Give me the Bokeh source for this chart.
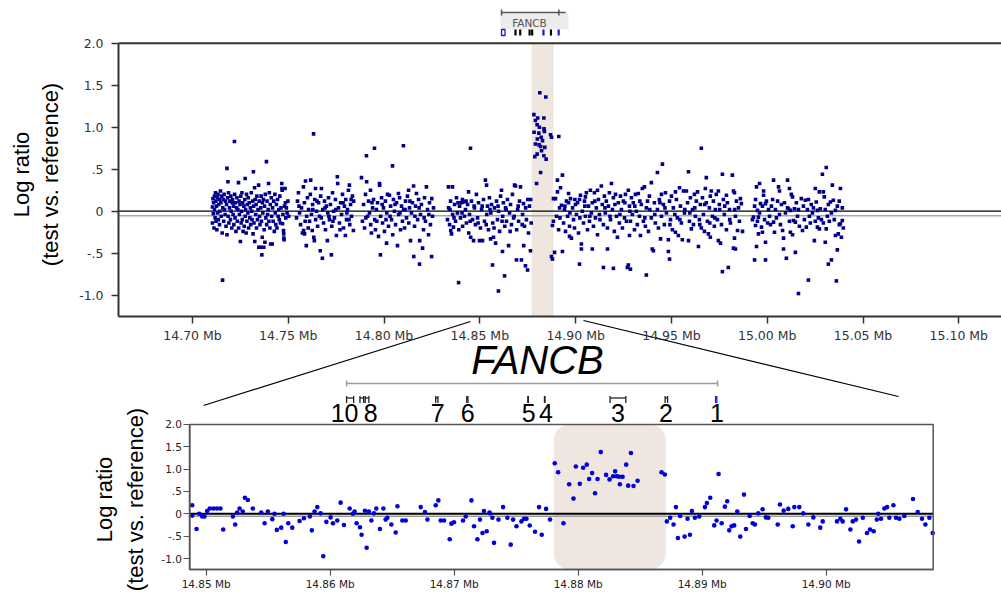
from bokeh.plotting import figure
from bokeh.models import Range1d, LinearAxis, FixedTicker, PrintfTickFormatter, BoxAnnotation
from bokeh.core.properties import value
from bokeh.embed import file_html
from bokeh.resources import INLINE

# ---------------- data ----------------
# top panel: position (Mb), log ratio
top_a = [(14.7104,0.05),(14.7104,-0.14),(14.7107,0.15),(14.7109,-0.03),(14.7110,0.10),(14.7112,-0.20),(14.7115,0.18),(14.7115,0.02),(14.7118,-0.08),(14.7120,0.22),(14.7122,0.12),(14.7123,-0.12),(14.7125,0.06),(14.7127,-0.22),(14.7130,0.16),(14.7131,-0.02),(14.7133,0.20),(14.7135,-0.10),(14.7137,0.08),(14.7140,0.14),(14.7141,-0.16),(14.7143,0.00),(14.7146,0.24),(14.7148,0.10),(14.7150,-0.06),(14.7153,0.18),(14.7155,-0.26),(14.7157,-0.82),(14.7158,0.04),(14.7160,0.14),(14.7163,-0.12),(14.7165,0.20),(14.7167,0.02),(14.7170,-0.04),(14.7172,0.12),(14.7175,-0.18),(14.7180,0.51),(14.7178,0.08),(14.7180,-0.28),(14.7183,0.16),(14.7185,0.35),(14.7186,-0.06),(14.7188,0.22),(14.7190,-0.14),(14.7193,0.04),(14.7195,0.12),(14.7198,-0.10),(14.7200,0.18),(14.7202,0.00),(14.7205,-0.20),(14.7207,0.10),(14.7209,0.14),(14.7212,-0.04),(14.7214,0.06),(14.7216,-0.16),(14.7219,0.83),(14.7220,0.20),(14.7222,-0.08),(14.7225,0.10),(14.7227,-0.24),(14.7230,0.04),(14.7232,0.16),(14.7234,-0.12),(14.7237,0.02),(14.7240,0.34),(14.7241,-0.20),(14.7243,0.12),(14.7245,-0.04),(14.7248,0.08),(14.7250,-0.36),(14.7252,0.18),(14.7254,-0.14),(14.7256,0.00),(14.7258,0.22),(14.7260,-0.10),(14.7262,0.10),(14.7264,-0.24),(14.7275,0.39),(14.7268,0.06),(14.7270,-0.18),(14.7273,0.14),(14.7275,-0.06),(14.7277,0.02),(14.7280,-0.26),(14.7282,0.20),(14.7284,-0.12),(14.7286,0.08),(14.7289,-0.02),(14.7291,0.16),(14.7293,-0.20),(14.7296,0.10),(14.7299,-0.08),(14.7302,0.04),(14.7304,-0.16),(14.7307,0.22),(14.7309,0.00),(14.7311,-0.10),(14.7318,0.47),(14.7314,0.12),(14.7316,-0.27),(14.7319,0.06),(14.7321,-0.14),(14.7324,0.28),(14.7325,-0.36),(14.7327,0.14),(14.7330,-0.04),(14.7332,0.08),(14.7334,-0.20),(14.7336,0.18),(14.7339,-0.10),(14.7342,0.02),(14.7345,0.31),(14.7346,-0.43),(14.7348,0.12),(14.7350,-0.06),(14.7352,-0.16),(14.7355,-0.43),(14.7356,0.04),(14.7358,0.18),(14.7360,-0.12),(14.7362,-0.52),(14.7364,-0.31),(14.7365,0.10),(14.7367,-0.02),(14.7370,0.14),(14.7372,-0.43),(14.7374,-0.22),(14.7376,0.06),(14.7378,-0.37),(14.7380,0.20),(14.7383,-0.08),(14.7386,0.59),(14.7387,-0.16),(14.7389,0.12),(14.7392,-0.04),(14.7395,0.02),(14.7397,0.33),(14.7399,-0.12),(14.7401,0.22),(14.7404,-0.20),(14.7406,0.08),(14.7408,-0.39),(14.7411,0.16),(14.7413,-0.06),(14.7416,-0.39),(14.7418,0.04),(14.7421,-0.12),(14.7424,0.12),(14.7427,-0.24),(14.7430,0.20),(14.7432,-0.02),(14.7435,-0.16),(14.7438,0.08),(14.7441,-0.20),(14.7444,0.14),(14.7447,-0.06),(14.7450,0.02),(14.7453,-0.10),(14.7456,0.18),(14.7459,-0.14),(14.7462,0.04),(14.7466,0.33),(14.7467,0.27),(14.7468,0.25),(14.7470,-0.15),(14.7472,-0.04),(14.7475,-0.23),(14.7476,-0.27),(14.7477,-0.32),(14.7478,-0.34),(14.7480,0.06),(14.7483,0.27),(14.7485,0.10),(14.7487,-0.08),(14.7490,0.04),(14.7494,-0.02),(14.7498,0.12),(14.7502,-0.06)]
top_b = [(14.7543,-0.08),(14.7548,0.12),(14.7553,0.22),(14.7559,-0.02),(14.7564,-0.16),(14.7569,0.04),(14.7574,-0.26),(14.7579,0.29),(14.7580,-0.23),(14.7584,0.10),(14.7585,-0.27),(14.7590,0.36),(14.7594,-0.41),(14.7596,-0.06),(14.7600,0.16),(14.7606,0.02),(14.7611,-0.12),(14.7615,0.20),(14.7617,0.37),(14.7621,-0.04),(14.7625,-0.23),(14.7627,0.08),(14.7632,0.92),(14.7633,-0.31),(14.7636,-0.35),(14.7638,0.14),(14.7642,0.27),(14.7643,-0.10),(14.7647,0.00),(14.7653,-0.18),(14.7658,0.10),(14.7663,-0.06),(14.7667,-0.47),(14.7669,0.18),(14.7673,0.27),(14.7678,-0.56),(14.7680,0.02),(14.7684,-0.14),(14.7689,0.12),(14.7694,-0.22),(14.7699,0.06),(14.7704,-0.35),(14.7706,-0.02),(14.7710,0.16),(14.7715,-0.10),(14.7720,0.08),(14.7725,-0.52),(14.7727,-0.18),(14.7731,0.22),(14.7736,0.00),(14.7741,-0.08),(14.7746,0.14),(14.7751,-0.29),(14.7756,0.41),(14.7758,0.33),(14.7762,0.04),(14.7767,-0.14),(14.7773,0.10),(14.7778,-0.04),(14.7783,0.20),(14.7788,-0.20),(14.7793,0.06),(14.7798,-0.29),(14.7800,0.14),(14.7804,-0.10),(14.7809,0.02),(14.7814,0.25),(14.7819,0.31),(14.7821,-0.16),(14.7825,0.08),(14.7830,-0.06),(14.7835,0.18),(14.7840,-0.23),(14.7841,0.12),(14.7556,0.06),(14.7588,-0.12),(14.7604,-0.20),(14.7628,0.02),(14.7650,0.12),(14.7672,-0.08),(14.7692,0.04),(14.7712,-0.06),(14.7733,-0.12),(14.7748,0.02),(14.7770,-0.22),(14.7786,0.10),(14.7806,-0.02),(14.7817,-0.10),(14.7828,0.14)]
top_c = [(14.7882,0.40),(14.7887,-0.12),(14.7893,0.08),(14.7898,-0.20),(14.7903,0.20),(14.7908,0.66),(14.7909,0.35),(14.7914,-0.06),(14.7919,0.12),(14.7924,-0.02),(14.7929,0.25),(14.7930,-0.16),(14.7934,-0.26),(14.7940,0.04),(14.7945,0.14),(14.7950,0.75),(14.7951,-0.10),(14.7955,-0.22),(14.7960,0.02),(14.7966,0.10),(14.7971,-0.30),(14.7976,0.33),(14.7977,0.31),(14.7981,-0.52),(14.7982,-0.06),(14.7987,0.16),(14.7992,-0.14),(14.7997,0.04),(14.8002,-0.24),(14.8007,0.12),(14.8013,-0.38),(14.8014,-0.02),(14.8018,0.20),(14.8023,-0.18),(14.8028,0.19),(14.8034,0.06),(14.8039,-0.10),(14.8044,0.54),(14.8045,-0.28),(14.8049,0.14),(14.8054,0.00),(14.8060,-0.16),(14.8065,0.10),(14.8070,-0.41),(14.8075,0.21),(14.8076,-0.04),(14.8081,0.16),(14.8086,-0.22),(14.8091,0.06),(14.8096,-0.12),(14.8101,0.78),(14.8102,0.02),(14.8107,-0.20),(14.8112,0.12),(14.8117,-0.08),(14.8122,0.18),(14.8128,0.25),(14.8129,-0.14),(14.8133,0.04),(14.8138,-0.35),(14.8143,-0.02),(14.8148,0.10),(14.8154,0.30),(14.8155,-0.54),(14.8159,-0.18),(14.8164,0.06),(14.8169,0.21),(14.8175,-0.10),(14.8180,0.14),(14.8185,-0.63),(14.8186,-0.35),(14.8190,-0.04),(14.8195,0.08),(14.8201,-0.44),(14.8206,-0.22),(14.8211,0.16),(14.8216,-0.12),(14.8221,0.29),(14.8227,0.02),(14.8232,-0.28),(14.8237,0.10),(14.8242,-0.16),(14.8248,-0.54),(14.8249,0.15),(14.8253,-0.06),(14.8258,0.04),(14.7905,-0.08),(14.7937,0.10),(14.7962,-0.12),(14.7990,0.08),(14.8010,-0.10),(14.8031,-0.06),(14.8057,0.08),(14.8083,-0.02),(14.8110,0.02),(14.8135,0.12),(14.8161,-0.06),(14.8183,0.04),(14.8209,-0.08),(14.8234,-0.04)]
top_d = [(14.8331,-0.10),(14.8336,0.29),(14.8337,0.04),(14.8342,-0.16),(14.8347,0.12),(14.8348,-0.23),(14.8352,-0.27),(14.8357,0.29),(14.8358,-0.04),(14.8362,-0.19),(14.8368,0.08),(14.8373,-0.12),(14.8378,0.16),(14.8383,-0.02),(14.8389,-0.85),(14.8390,-0.22),(14.8394,0.06),(14.8399,-0.08),(14.8404,0.10),(14.8409,0.14),(14.8410,-0.18),(14.8415,0.11),(14.8420,-0.06),(14.8425,0.02),(14.8430,-0.14),(14.8436,0.08),(14.8441,0.23),(14.8442,-0.26),(14.8446,-0.04),(14.8451,0.75),(14.8452,-0.31),(14.8456,0.12),(14.8462,-0.10),(14.8467,-0.35),(14.8472,0.04),(14.8477,-0.16),(14.8482,0.20),(14.8488,-0.08),(14.8493,0.10),(14.8498,-0.35),(14.8503,-0.20),(14.8509,0.02),(14.8514,-0.35),(14.8519,0.14),(14.8524,-0.12),(14.8529,0.37),(14.8535,0.31),(14.8536,-0.04),(14.8540,0.06),(14.8545,-0.22),(14.8550,0.16),(14.8556,-0.33),(14.8557,-0.02),(14.8561,0.08),(14.8566,-0.64),(14.8567,-0.14),(14.8571,-0.31),(14.8576,0.04),(14.8582,-0.38),(14.8587,0.12),(14.8592,-0.10),(14.8597,-0.95),(14.8598,0.00),(14.8603,-0.24),(14.8608,0.18),(14.8613,0.25),(14.8618,-0.48),(14.8619,-0.06),(14.8623,0.10),(14.8629,-0.77),(14.8630,-0.18),(14.8634,0.04),(14.8639,-0.12),(14.8644,0.14),(14.8650,-0.41),(14.8655,-0.02),(14.8660,0.08),(14.8665,-0.16),(14.8670,0.20),(14.8676,-0.08),(14.8681,0.31),(14.8686,0.30),(14.8691,-0.58),(14.8692,-0.22),(14.8697,0.02),(14.8702,-0.12),(14.8707,0.12),(14.8712,0.29),(14.8717,-0.58),(14.8723,-0.04),(14.8728,0.09),(14.8729,-0.41),(14.8733,-0.18),(14.8738,-0.65),(14.8739,0.04),(14.8743,-0.10),(14.8749,-0.70),(14.8750,0.14),(14.8754,-0.26),(14.8759,0.06),(14.8764,-0.47),(14.8765,0.14),(14.8768,-0.14),(14.8344,0.02),(14.8365,-0.08),(14.8386,0.10),(14.8407,-0.02),(14.8428,0.12),(14.8449,-0.12),(14.8470,0.06),(14.8491,-0.14),(14.8512,0.06),(14.8533,-0.16),(14.8553,0.02),(14.8574,-0.20),(14.8595,0.06),(14.8616,-0.12),(14.8637,0.02),(14.8658,-0.24),(14.8679,-0.06),(14.8700,0.06),(14.8721,-0.16)]
top_peak = [(14.8813,1.41),(14.8844,1.36),(14.8782,1.15),(14.8802,1.11),(14.8834,1.11),(14.8790,1.08),(14.8799,1.03),(14.8783,0.94),(14.8808,0.93),(14.8835,0.98),(14.8820,0.88),(14.8827,0.84),(14.8839,0.76),(14.8809,0.79),(14.8817,0.77),(14.8787,0.65),(14.8799,0.68),(14.8834,0.66),(14.8846,0.62),(14.8817,0.46),(14.8796,0.33),(14.8869,0.91),(14.8874,0.88),(14.8912,0.89),(14.8822,0.72),(14.8800,0.86),(14.8811,1.00),(14.8837,0.95),(14.8790,0.80)]
top_e = [(14.8874,-0.54),(14.8879,-0.57),(14.8890,-0.49),(14.8884,0.15),(14.8895,0.15),(14.8905,0.37),(14.8905,0.23),(14.8884,-0.12),(14.8879,-0.17),(14.8900,-0.06),(14.8911,-0.22),(14.8916,0.04),
 (14.8921,0.28),(14.8926,0.07),(14.8931,0.43),(14.8931,-0.48),(14.8937,-0.14),(14.8942,0.02),(14.8947,-0.24),(14.8952,0.12),(14.8958,-0.06),(14.8963,0.21),(14.8963,0.10),(14.8968,-0.18),(14.8968,-0.30),
 (14.8973,0.15),(14.8978,-0.32),(14.8984,0.04),(14.8989,-0.10),(14.8994,-0.20),(14.8999,0.08),(14.9004,-0.04),(14.9010,0.10),(14.9015,-0.26),(14.9020,0.14),(14.9020,-0.63),
 (14.9025,0.19),(14.9030,-0.39),(14.9030,-0.45),(14.9035,0.00),(14.9041,-0.14),(14.9046,0.12),(14.9051,-0.06),(14.9051,0.17),(14.9056,0.22),(14.9062,-0.22),(14.9067,0.06),(14.9072,-0.12),
 (14.9077,0.25),(14.9082,-0.02),(14.9087,-0.45),(14.9087,0.10),(14.9093,-0.18),(14.9098,0.22),(14.9103,-0.08),(14.9108,0.04),(14.9114,-0.28),(14.9114,0.25),(14.9119,0.14),(14.9124,-0.04),
 (14.9134,0.30),(14.9139,0.08),(14.9145,-0.67),(14.9145,-0.16),(14.9150,0.18),(14.9155,-0.02),(14.9160,0.12),(14.9166,-0.45),(14.9166,-0.20),(14.9171,0.06),(14.9176,0.22),
 (14.9182,-0.10),(14.9187,0.33),(14.9192,0.02),(14.9197,-0.68),(14.9197,0.16),(14.9202,-0.24),(14.9208,0.20),(14.9213,-0.06),(14.9218,-0.31),(14.9223,0.10),(14.9228,-0.14),
 (14.9234,0.18),(14.9239,0.02),(14.9244,-0.20),(14.9249,0.12),(14.9255,-0.08),(14.9260,0.20),(14.9265,-0.12),(14.9270,-0.67),(14.9275,0.25),(14.9275,-0.64),(14.9281,-0.29),(14.9281,0.06),
 (14.9286,-0.69),(14.9286,-0.12),(14.9291,0.16),(14.9296,-0.04),(14.9301,0.10),(14.9307,-0.22),(14.9312,0.20),(14.9317,0.00),(14.9322,-0.16),(14.9327,0.21),(14.9333,-0.06),
 (14.9338,-0.29),(14.9343,0.08),(14.9348,0.27),(14.9354,-0.12),(14.9359,0.29),(14.9364,-0.18),(14.9369,-0.76),(14.9369,0.04),(14.9375,0.12),(14.9380,-0.24),(14.9385,0.18),
 (14.9395,0.34),(14.9395,-0.08),(14.9400,-0.45),(14.9406,-0.47),(14.9411,0.10),(14.9416,-0.14),(14.9427,0.46),(14.9427,0.02),(14.9432,-0.20),(14.9437,0.14),
 (14.9443,-0.33),(14.9448,0.20),(14.9448,-0.06),(14.9453,0.56),(14.9458,0.08),(14.9463,-0.16),(14.9469,0.22),(14.9474,-0.02),(14.9484,-0.34),(14.9484,-0.48),(14.9490,-0.57),(14.9490,0.12),
 (14.9495,-0.10),(14.9500,0.18),(14.9505,-0.22),(14.9510,0.04),(14.9521,0.23),(14.9521,-0.25),(14.9526,0.14),(14.9531,-0.08),(14.9536,-0.29),(14.9542,0.28),
 (14.9547,0.06),(14.9552,-0.14),(14.9557,-0.34),(14.9563,0.24),(14.9568,-0.02),(14.9578,0.24),(14.9584,0.10),(14.9589,0.47),(14.9589,-0.35),(14.9594,-0.12),
 (14.9599,0.16),(14.9604,-0.21),(14.9610,0.02),(14.9615,-0.16),(14.9620,0.20),(14.9625,-0.06),(14.9630,0.12),(14.9636,0.23),(14.9641,-0.42),(14.9646,-0.10),
 (14.9651,0.08),(14.9656,0.75),(14.9656,-0.20),(14.9662,0.16),(14.9667,-0.04),(14.9672,-0.24),(14.9677,0.27),(14.9682,0.40),(14.9682,0.10),(14.9688,-0.12),(14.9693,-0.27),(14.9698,0.04),
 (14.9703,-0.31),(14.9703,0.18),(14.9708,0.24),(14.9714,-0.06),(14.9719,0.12),(14.9724,-0.18),(14.9729,0.02),(14.9734,0.20),(14.9740,-0.10),(14.9745,-0.35),(14.9745,0.24),(14.9750,0.08),
 (14.9756,-0.38),(14.9761,-0.16),(14.9766,0.44),(14.9766,-0.72),(14.9771,0.14),(14.9776,-0.04),(14.9787,0.19),(14.9787,-0.22),(14.9792,0.10),(14.9797,-0.67),(14.9803,0.02),
 (14.9808,-0.14),(14.9818,0.43),(14.9824,0.24),(14.9824,-0.44),(14.9829,0.22),(14.9829,-0.32),(14.9834,-0.45),(14.9834,-0.06),(14.9839,0.12),(14.9845,-0.23),(14.9850,0.04),(14.9855,-0.12),
 (14.9860,0.15),(14.9865,0.09),(14.9871,-0.24),
 (14.8918,-0.08),(14.8944,0.06),(14.8970,-0.02),(14.8996,0.14),(14.9022,-0.08),(14.9048,0.06),(14.9074,-0.06),(14.9100,0.12),(14.9127,-0.10),(14.9153,0.04),(14.9179,-0.06),(14.9205,0.08),(14.9231,-0.04),(14.9257,0.10),(14.9283,0.00),(14.9309,0.06),(14.9335,0.12),(14.9361,-0.08),(14.9387,0.02),(14.9413,-0.04),(14.9440,0.10),(14.9466,0.04),(14.9492,-0.16),(14.9518,-0.04),(14.9544,-0.10),(14.9570,0.02),(14.9596,-0.02),(14.9622,0.04),(14.9648,-0.16),(14.9674,0.08),(14.9700,-0.14),(14.9726,-0.08),(14.9752,0.02),(14.9778,0.06),(14.9804,-0.10),(14.9830,0.02)]
top_f = [(14.9923,-0.10),(14.9928,-0.07),(14.9934,0.06),(14.9934,-0.58),(14.9939,-0.17),(14.9939,0.14),(14.9944,0.29),(14.9944,-0.42),(14.9949,0.01),(14.9949,-0.12),(14.9954,-0.27),(14.9954,-0.07),(14.9960,0.33),(14.9960,-0.02),
 (14.9965,0.09),(14.9970,-0.19),(14.9975,-0.25),(14.9975,0.06),(14.9981,0.24),(14.9981,0.19),(14.9986,-0.10),(14.9991,-0.58),(14.9991,0.09),(14.9991,-0.37),(14.9996,0.12),(15.0002,-0.14),(15.0007,0.02),(15.0012,-0.06),
 (15.0017,-0.16),(15.0022,0.06),(15.0028,0.14),(15.0033,0.37),(15.0033,-0.13),(15.0038,-0.25),(15.0043,0.02),(15.0048,-0.08),(15.0054,0.12),(15.0059,0.29),(15.0064,0.24),(15.0064,-0.04),
 (15.0069,-0.16),(15.0074,0.08),(15.0080,-0.23),(15.0085,-0.32),(15.0085,-0.45),(15.0090,0.10),(15.0095,-0.02),(15.0100,-0.56),(15.0106,0.37),(15.0106,0.04),(15.0111,0.03),(15.0116,0.27),(15.0116,-0.12),
 (15.0121,-0.25),(15.0121,0.01),(15.0126,0.20),(15.0132,-0.28),(15.0132,0.17),(15.0137,-0.11),(15.0142,0.03),(15.0147,-0.49),(15.0147,-0.13),(15.0152,0.10),(15.0158,-0.06),(15.0163,-0.98),(15.0163,0.02),(15.0168,-0.18),
 (15.0178,0.15),(15.0184,-0.23),(15.0189,0.06),(15.0194,-0.10),(15.0199,0.13),(15.0204,-0.19),(15.0210,0.02),(15.0215,-0.82),(15.0215,0.14),(15.0220,-0.06),
 (15.0225,-0.14),(15.0230,0.08),(15.0236,-0.02),(15.0241,0.04),(15.0246,-0.35),(15.0251,0.27),(15.0251,-0.12),(15.0256,0.11),(15.0262,0.01),(15.0262,-0.19),(15.0267,-0.08),(15.0272,0.23),(15.0272,-0.21),
 (15.0277,0.03),(15.0283,-0.10),(15.0288,0.44),(15.0293,0.23),(15.0293,-0.14),(15.0298,0.17),(15.0303,-0.37),(15.0303,0.02),(15.0308,0.52),(15.0308,-0.21),(15.0314,-0.06),(15.0319,-0.63),(15.0319,0.08),(15.0324,-0.12),
 (15.0330,0.11),(15.0335,-0.58),(15.0335,-0.02),(15.0340,0.31),(15.0345,0.13),(15.0350,-0.10),(15.0356,-0.29),(15.0356,0.01),(15.0361,-0.83),(15.0366,-0.46),(15.0366,0.06),(15.0371,-0.27),(15.0376,0.12),(15.0376,-0.16),
 (15.0382,0.27),(15.0382,-0.15),(15.0387,-0.31),(15.0392,-0.11),(15.0392,0.04),(15.0397,-0.20)]

# bottom (zoomed) panel
bottom_left = [(14.84887,0.19),(14.84887,-0.04),(14.84922,-0.34),(14.84944,0.00),(14.84968,-0.06),(14.84986,-0.06),(14.85008,0.06),(14.85029,0.12),(14.85059,0.12),(14.85087,0.12),(14.85115,0.12),(14.85137,-0.35),(14.85215,-0.06),(14.85234,-0.24),(14.85250,0.03),(14.85269,0.12),(14.85295,0.05),(14.85312,0.36),(14.85336,0.31),(14.85376,0.12),(14.85444,0.03),(14.85471,-0.21),(14.85497,0.05),(14.85533,-0.12),(14.85551,0.00),(14.85570,-0.36),(14.85605,-0.31),(14.85624,0.00),(14.85642,-0.63),(14.85662,-0.21),(14.85694,-0.31),(14.85753,-0.16),(14.85788,-0.10),(14.85836,-0.06),(14.85852,-0.37),(14.85874,0.05),(14.85896,0.15),(14.85922,0.01),(14.85944,-0.95),(14.85969,-0.18),(14.86003,-0.08),(14.86022,-0.21),(14.86057,-0.15),(14.86084,0.25),(14.86111,-0.25),(14.86157,0.12),(14.86183,0.00),(14.86197,0.05),(14.86213,-0.21),(14.86240,-0.30),(14.86253,-0.47),(14.86280,0.07),(14.86294,-0.76),(14.86312,0.05),(14.86332,-0.15),(14.86353,0.01),(14.86372,0.12),(14.86401,-0.34),(14.86429,0.12),(14.86447,-0.13),(14.86461,-0.09),(14.86493,-0.24),(14.86528,-0.42),(14.86542,0.17),(14.86582,-0.15),(14.86609,-0.15),(14.86730,0.15),(14.86764,0.04),(14.86784,-0.13),(14.86851,0.19),(14.86872,0.30),(14.86891,-0.15),(14.86918,-0.15),(14.86964,-0.57),(14.86977,-0.22),(14.86998,-0.19),(14.87071,-0.15),(14.87093,-0.06),(14.87139,0.30),(14.87160,-0.28),(14.87187,-0.57),(14.87208,-0.13),(14.87228,-0.43),(14.87240,0.06),(14.87262,-0.39),(14.87284,0.03),(14.87289,0.01),(14.87308,-0.09),(14.87321,-0.65),(14.87357,-0.13),(14.87394,0.15),(14.87429,-0.09),(14.87456,-0.69),(14.87475,-0.13),(14.87502,-0.28),(14.87542,-0.17),(14.87563,-0.11),(14.87583,-0.11),(14.87609,-0.26),(14.87652,-0.40),(14.87684,0.15),(14.87706,-0.47),(14.87741,0.11),(14.87773,-0.13)]
bottom_band = [(14.87811,1.13),(14.87838,0.93),(14.87881,-0.21),(14.87927,0.66),(14.87962,0.34),(14.87981,1.06),(14.88013,0.67),(14.88040,1.03),(14.88069,1.10),(14.88088,0.78),(14.88112,0.91),(14.88136,0.46),(14.88156,0.78),(14.88182,1.38),(14.88225,0.87),(14.88253,0.77),(14.88282,0.84),(14.88298,0.95),(14.88312,0.84),(14.88330,0.83),(14.88336,0.66),(14.88358,0.83),(14.88387,1.10),(14.88403,0.63),(14.88425,1.36),(14.88446,0.62),(14.88479,0.74),(14.88672,0.93),(14.88699,0.88)]
bottom_right = [(14.88715,-0.17),(14.88742,-0.09),(14.88769,-0.24),(14.88788,0.15),(14.88804,-0.54),(14.88822,-0.05),(14.88858,-0.51),(14.88882,-0.11),(14.88901,-0.47),(14.88917,0.06),(14.88941,-0.09),(14.88976,-0.06),(14.89022,0.15),(14.89038,0.24),(14.89065,0.36),(14.89097,-0.26),(14.89116,-0.15),(14.89132,0.89),(14.89157,-0.21),(14.89183,0.16),(14.89202,0.28),(14.89218,-0.37),(14.89237,-0.28),(14.89258,-0.26),(14.89283,0.05),(14.89307,-0.51),(14.89337,0.43),(14.89353,-0.34),(14.89383,-0.05),(14.89407,-0.21),(14.89425,-0.24),(14.89452,0.01),(14.89487,0.10),(14.89514,-0.08),(14.89533,-0.09),(14.89609,-0.24),(14.89627,0.21),(14.89657,0.07),(14.89694,0.11),(14.89730,-0.28),(14.89743,0.15),(14.89783,0.15),(14.89815,0.01),(14.89856,-0.24),(14.89896,-0.08),(14.89952,-0.31),(14.89972,-0.17),(14.90087,-0.17),(14.90114,-0.11),(14.90133,-0.17),(14.90160,0.10),(14.90195,-0.35),(14.90214,-0.17),(14.90241,-0.13),(14.90265,-0.62),(14.90295,-0.09),(14.90329,-0.43),(14.90353,-0.35),(14.90383,-0.39),(14.90408,-0.13),(14.90420,0.00),(14.90442,-0.11),(14.90469,0.12),(14.90491,0.15),(14.90509,-0.09),(14.90542,0.19),(14.90563,-0.09),(14.90590,-0.11),(14.90630,-0.05),(14.90700,0.33),(14.90738,0.04),(14.90773,-0.11),(14.90800,-0.24),(14.90832,-0.09),(14.90859,-0.43)]

# gene model of FANCB (Mb)
gene_name = "FANCB"
gene_start, gene_end = 14.86132, 14.89124
exon_start = [14.86132, 14.86240, 14.86282, 14.86851, 14.87101, 14.87594, 14.87728, 14.88257, 14.88701, 14.89108]
exon_end   = [14.86189, 14.86270, 14.86312, 14.86869, 14.87111, 14.87598, 14.87732, 14.88384, 14.88721, 14.89118]
exon_label_text = ["10", "8", "7", "6", "5", "4", "3", "2", "1"]
exon_label_pos = [14.86116, 14.86326, 14.86867, 14.87109, 14.87601, 14.87739, 14.88320, 14.88707, 14.89119]
amplified_top = (14.8770, 14.8884)      # shaded in overview
amplified_zoom = (14.87803, 14.88706)   # shaded in zoom

top_ticks = [14.70, 14.75, 14.80, 14.85, 14.90, 14.95, 15.00, 15.05, 15.10]
bottom_ticks = [14.85, 14.86, 14.87, 14.88, 14.89, 14.90]
ratio_ticks = [-1.0, -0.5, 0.0, 0.5, 1.0, 1.5, 2.0]
ratio_labels = {-1.0: "-1.0", -0.5: "-.5", 0.0: "0", 0.5: ".5", 1.0: "1.0", 1.5: "1.5", 2.0: "2.0"}

# ---------------- layout ----------------
W, H = 1001, 596
CX0, CX1, CY0, CY1 = 0, W, 0, H   # canvas box in page pixels


def stretch(d0, d1, p0, p1, c0, c1):
    k = (d1 - d0) / (p1 - p0)
    return Range1d(start=d0 + (c0 - p0) * k, end=d0 + (c1 - p0) * k)


p = figure(width=W, height=H, x_range=Range1d(CX0, CX1), y_range=Range1d(CY1, CY0),
           x_axis_type=None, y_axis_type=None, toolbar_location=None,
           output_backend="svg", min_border=0, outline_line_color=None,
           background_fill_color="white", border_fill_color="white")
p.extra_x_ranges = {"tx": stretch(14.70, 15.10, 192.0, 958.3, CX0, CX1),
                    "bx": stretch(14.85, 14.90, 205.7, 825.7, CX0, CX1)}
p.extra_y_ranges = {"ty": stretch(0.0, 1.0, 210.7, 126.7, CY1, CY0),
                    "by": stretch(0.0, 1.0, 513.3, 468.6, CY1, CY0)}

TOP_X = (14.6614, 15.1225)
TOP_Y = (-1.25, 2.0)
BOT_X = (14.84868, 14.90863)
BOT_Y = (-1.245, 2.0)

T = dict(x_range_name="tx", y_range_name="ty")
B = dict(x_range_name="bx", y_range_name="by")
NAVY = "#00008b"
BLUE = "#0000dd"
TRACK_BLUE = "#1a1ad0"
BAND = "#efe6df"

# ---- top overview panel ----
p.quad(left=[amplified_top[0]], right=[amplified_top[1]], bottom=[TOP_Y[0]], top=[TOP_Y[1]],
       fill_color=BAND, line_color=None, **T)
p.segment(x0=[TOP_X[0]], x1=[TOP_X[1]], y0=[-0.055], y1=[-0.055], line_color="#a8a8a8", line_width=1.5, **T)
p.segment(x0=[TOP_X[0]], x1=[TOP_X[1]], y0=[0], y1=[0], line_color="black", line_width=1.3, **T)
p.segment(x0=[TOP_X[0]], x1=[TOP_X[1]], y0=[TOP_Y[1]], y1=[TOP_Y[1]], line_color="#333333", line_width=2, **T)
top_all = top_a + top_b + top_c + top_d + top_peak + top_e + top_f
p.scatter([q[0] for q in top_all], [q[1] for q in top_all], marker="square", size=3.6,
          fill_color=NAVY, line_color=None, **T)

ty_axis = LinearAxis(fixed_location=TOP_X[0], bounds=TOP_Y, ticker=FixedTicker(ticks=ratio_ticks),
                     major_label_overrides=ratio_labels, **T)
tx_axis = LinearAxis(fixed_location=TOP_Y[0], bounds=TOP_X, ticker=FixedTicker(ticks=top_ticks),
                     formatter=PrintfTickFormatter(format="%.2f Mb"), **T)
for ax in (ty_axis, tx_axis):
    ax.axis_line_color = "#333333"
    ax.axis_line_width = 2
    ax.major_tick_line_color = "#333333"
    ax.major_tick_line_width = 1.5
    ax.major_tick_out = 7
    ax.major_tick_in = 0
    ax.minor_tick_line_color = None
    ax.major_label_text_font = "DejaVu Sans"
    ax.major_label_text_font_size = "12.5px"
    ax.major_label_text_color = "#333333"
ty_axis.major_label_standoff = 8
tx_axis.major_label_standoff = 5
p.add_layout(ty_axis, "left")
p.add_layout(tx_axis, "below")

# ---- small gene track above overview ----
p.quad(left=[500], right=[568], top=[13], bottom=[29], fill_color="#ececec", line_color=None)
p.segment(x0=[gene_start], x1=[gene_end + 0.0036], y0=[12], y1=[12], line_color="#555555", line_width=1.5, x_range_name="tx")
p.segment(x0=[gene_start, gene_end], x1=[gene_start, gene_end], y0=[9, 9], y1=[15, 15],
          line_color="#555555", line_width=1.5, x_range_name="tx")
p.text(x=[529], y=[22], text=[gene_name], text_font=value("DejaVu Sans"), text_font_size="10.5px",
       text_color="#555555", text_align="center", text_baseline="middle")
# exons 10-8 form one hollow block; the others are solid bars
p.rect(x=[(exon_start[0] + exon_end[2]) / 2], y=[32], width=3.5, height=6,
       width_units="screen", height_units="screen", fill_color="white", line_color=TRACK_BLUE,
       line_width=1.3, x_range_name="tx")
track_colors = ["black"] * 4 + [TRACK_BLUE, "black", TRACK_BLUE]
p.rect(x=[(s + e) / 2 for s, e in zip(exon_start[3:], exon_end[3:])], y=[32] * 7,
       width=2.2, height=6, width_units="screen", height_units="screen",
       fill_color=track_colors, line_color=None, x_range_name="tx")

# ---- connector lines ----
p.segment(x0=[470, 583], y0=[321, 320], x1=[203, 898], y1=[405, 396], line_color="black", line_width=1.2)

# ---- gene model above zoom ----
p.text(x=[537], y=[359], text=[gene_name], text_font=value("Liberation Sans"), text_font_style="italic",
       text_font_size="40px", text_color="black", text_align="center", text_baseline="middle")
p.segment(x0=[gene_start], x1=[gene_end], y0=[383], y1=[383], line_color="#9a9a9a", line_width=1.5, x_range_name="bx")
p.segment(x0=[gene_start, gene_end], x1=[gene_start, gene_end], y0=[380, 380], y1=[386, 386],
          line_color="#9a9a9a", line_width=1.5, x_range_name="bx")
exon_line = ["#222222"] * 9 + [TRACK_BLUE]
n_ex = len(exon_start)
# exon brackets: bar across the exon plus a tick at each end
p.segment(x0=exon_start, x1=exon_end, y0=[397.5] * n_ex, y1=[397.5] * n_ex,
          line_color=exon_line, line_width=1.3, x_range_name="bx")
p.segment(x0=exon_start + exon_end, x1=exon_start + exon_end, y0=[395.5] * (2 * n_ex), y1=[402.5] * (2 * n_ex),
          line_color=exon_line + exon_line, line_width=1.3, x_range_name="bx")
p.text(x=exon_label_pos, y=[412] * len(exon_label_pos), text=exon_label_text,
       text_font=value("Liberation Sans"), text_font_size="25px", text_color="black",
       text_align="center", text_baseline="middle", x_range_name="bx")

# ---- zoomed panel ----
p.add_layout(BoxAnnotation(left=amplified_zoom[0], right=amplified_zoom[1], bottom=BOT_Y[0], top=BOT_Y[1],
                           fill_color=BAND, fill_alpha=1.0, line_color=None, border_radius=16,
                           level="underlay", **B))
p.segment(x0=[BOT_X[0]], x1=[BOT_X[1]], y0=[-0.055], y1=[-0.055], line_color="#9a9a9a", line_width=1.5, **B)
p.segment(x0=[BOT_X[0]], x1=[BOT_X[1]], y0=[0], y1=[0], line_color="black", line_width=2, **B)
bottom_all = bottom_left + bottom_band + bottom_right
p.scatter([q[0] for q in bottom_all], [q[1] for q in bottom_all], marker="circle", size=4.6,
          fill_color=BLUE, line_color=None, **B)
p.quad(left=[BOT_X[0]], right=[BOT_X[1]], bottom=[BOT_Y[0]], top=[BOT_Y[1]], fill_color=None,
       line_color="#555555", line_width=1.5, **B)

by_axis = LinearAxis(fixed_location=BOT_X[0], bounds=BOT_Y, ticker=FixedTicker(ticks=ratio_ticks),
                     major_label_overrides=ratio_labels, **B)
bx_axis = LinearAxis(fixed_location=BOT_Y[0], bounds=BOT_X, ticker=FixedTicker(ticks=bottom_ticks),
                     formatter=PrintfTickFormatter(format="%.2f Mb"), **B)
for ax in (by_axis, bx_axis):
    ax.axis_line_color = "#555555"
    ax.axis_line_width = 1.5
    ax.major_tick_line_color = "#555555"
    ax.major_tick_line_width = 1.2
    ax.major_tick_out = 6
    ax.major_tick_in = 0
    ax.minor_tick_line_color = None
    ax.major_label_text_font = "DejaVu Sans"
    ax.major_label_text_font_size = "10.5px"
    ax.major_label_text_color = "#222222"
by_axis.major_label_standoff = 2
bx_axis.major_label_standoff = 3
p.add_layout(by_axis, "left")
p.add_layout(bx_axis, "below")

# ---- y axis titles ----
p.text(x=[21, 50], y=[174, 174], text=["Log ratio", "(test vs. reference)"], angle=1.5708,
       text_font=value("Liberation Sans"), text_font_size="22px", text_color="black",
       text_align="center", text_baseline="middle")
p.text(x=[104, 135], y=[499, 499], text=["Log ratio", "(test vs. reference)"], angle=1.5708,
       text_font=value("Liberation Sans"), text_font_size="22px", text_color="black",
       text_align="center", text_baseline="middle")

open("out.html", "w").write(file_html(p, INLINE))
